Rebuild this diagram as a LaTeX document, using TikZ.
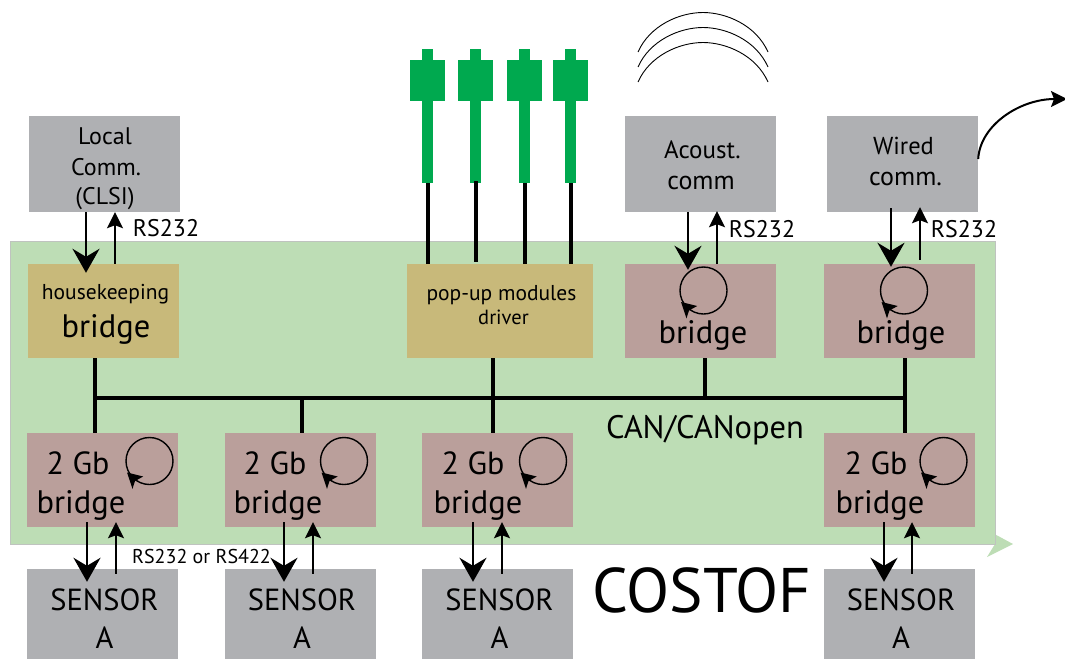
\documentclass[tikz,border=0pt]{standalone}
\usepackage{fontspec}
\setmainfont{PT Sans}
\usetikzlibrary{arrows.meta,calc}
\definecolor{boxgray}{HTML}{AFB0B3}
\definecolor{panelgreen}{HTML}{BDDDB5}
\definecolor{paneledge}{HTML}{BFC3BF}
\definecolor{brbrown}{HTML}{BA9F9B}
\definecolor{khaki}{HTML}{C8B97A}
\definecolor{pingreen}{HTML}{00A94F}
\tikzset{
  x=1pt,y=-1pt,
  blockbox/.style={rectangle,draw=none,inner sep=0pt,minimum width=151pt,minimum height=#1},
  graybox/.style={blockbox=96pt,fill=boxgray},
  sensorbox/.style={blockbox=90pt,fill=boxgray},
  brownbox/.style={blockbox=94pt,fill=brbrown},
  khakibox/.style={blockbox=94pt,fill=khaki},
  txt/.style={anchor=base,inner sep=0pt,font=\fontsize{#1}{#1}\selectfont},
  downarr/.style={line width=2.3pt,-{Stealth[length=24pt,width=27pt,inset=8pt]}},
  uparr/.style={line width=2pt,-{Stealth[length=16pt,width=16pt,inset=3pt]}},
  busline/.style={line width=4pt},
  loopring/.style={circle,draw,line width=1.4pt,inner sep=0pt,minimum size=47pt},
  stem/.style={rectangle,fill=pingreen,inner sep=0pt,minimum width=11pt,minimum height=134pt},
  pinhead/.style={rectangle,fill=pingreen,inner sep=0pt,minimum width=35pt,minimum height=41pt},
  wave/.style={line width=0.9pt},
}
\newcommand{\loopmark}[3]{%
  \node[loopring] (#1) at (#2,#3) {};
  \fill ($(#2,#3)+(-22.5,11.5)$) -- ($(#2,#3)+(-17,27.8)$) -- ($(#2,#3)+(-14.5,20)$) -- ($(#2,#3)+(-6.3,15.5)$) -- cycle;
}
\newcommand{\pinat}[2]{%
  \node[stem] (#1) at (#2,116) {};
  \node[pinhead] (#1h) at (#2,80.5) {};
}
\newcommand{\sensorset}[6]{%
  % name, box centre, 2 Gb x, bridge x, loop x, sensor text x
  \node[brownbox] (gb#1) at (#2,480) {};
  \node[sensorbox] (s#1) at (#2,614) {};
  \node[txt=32] at (#3,474) {2 Gb};
  \node[txt=32.5] at (#4,513) {bridge};
  \loopmark{lg#1}{#5}{461}
  \node[txt=30.5] at (#6,610) {SENSOR};
  \node[txt=30.5] at (#6,648) {A};
}
\begin{document}
\begin{tikzpicture}
\useasboundingbox (0,0) rectangle (1065,659);
% panel
\fill[panelgreen] (987,530) -- (1013,544) -- (987,557) -- (995,544) -- cycle;
\node[rectangle,fill=panelgreen,draw=paneledge,line width=1pt,inner sep=0pt,minimum width=985pt,minimum height=303pt] (panel) at (503,393) {};
% pins
\pinat{pina}{427.5}
\pinat{pinb}{475.5}
\pinat{pinc}{524.5}
\pinat{pind}{570.5}
% waves
\draw[wave] (638,52) .. controls (650,25) and (680,12.5) .. (703,12.5) .. controls (726,12.5) and (756,25) .. (768,52);
\draw[wave] (638,67) .. controls (650,40) and (680,27.5) .. (703,27.5) .. controls (726,27.5) and (756,40) .. (768,67);
\draw[wave] (638,82) .. controls (650,55) and (680,42.5) .. (703,42.5) .. controls (726,42.5) and (756,55) .. (768,82);
% top boxes
\node[graybox] (local) at (104.5,164) {};
\node[graybox] (acoust) at (700.5,164) {};
\node[graybox] (wired) at (902.5,164) {};
\node[khakibox] (hk) at (103.5,311) {};
\node[khakibox,minimum width=186pt] (popup) at (500,311) {};
\node[brownbox] (bra) at (700.5,311) {};
\node[brownbox] (brb) at (899.5,311) {};
\node[txt=24] at (105,144) {Local};
\node[txt=24] at (106,175) {Comm.};
\node[txt=24] at (105,204) {(CLSI)};
\node[txt=25] at (702.5,158) {Acoust.};
\node[txt=26] at (701,189) {comm};
\node[txt=24.5] at (903.5,154) {Wired};
\node[txt=26] at (905.5,185) {comm.};
\node[txt=24] at (166,236) {RS232};
\node[txt=24] at (762,237) {RS232};
\node[txt=24] at (964,237) {RS232};
\node[txt=21.5] at (105.5,299) {housekeeping};
\node[txt=32.5] at (106,337) {bridge};
\node[txt=21.5] at (501.5,300) {pop-up modules};
\node[txt=20.5] at (503.5,324) {driver};
\node[txt=32.5] at (703,343) {bridge};
\node[txt=32.5] at (901,343) {bridge};
\loopmark{lta}{703.5}{290.5}
\loopmark{ltb}{904}{290.5}
% lower boxes
\sensorset{a}{102.5}{78}{81}{149.5}{104.5}
\sensorset{b}{300.5}{275}{278}{344}{302}
\sensorset{c}{497.5}{473}{478}{543}{499.5}
\sensorset{d}{899.5}{876}{880}{943.5}{901}
\node[txt=32.5] at (705,438) {CAN/CANopen};
\node[txt=20] at (201.5,563) {RS232 or RS422};
\node[txt=63] at (701.5,612) {COSTOF};
% pop-up wires
\draw[busline] (pina.south) -- (pina.south |- popup.north);
\draw[busline] ([yshift=2pt]pinb.south) -- ([yshift=2pt]pinb.south |- popup.north);
\draw[busline] (pinc.south) -- (pinc.south |- popup.north);
\draw[busline] (pind.south) -- (pind.south |- popup.north);
% bus
\coordinate (busa) at (95,398);
\coordinate (busb) at (302,398);
\coordinate (busc) at (493,398);
\coordinate (busd) at (705,398);
\coordinate (buse) at (905,398);
\draw[busline] (busa) -- (buse);
\draw[busline] (busa |- hk.south) -- (busa |- gba.north);
\draw[busline] (busb) -- (busb |- gbb.north);
\draw[busline] (busc |- popup.south) -- (busc |- gbc.north);
\draw[busline] (busd |- bra.south) -- (busd);
\draw[busline] (buse |- brb.south) -- (buse |- gbd.north);
% top arrows
\draw[downarr] ([xshift=-18.5pt]local.south) -- ([xshift=-17.5pt,yshift=-9pt]hk.north);
\draw[uparr] ([xshift=11.5pt]hk.north) -- ([xshift=10.5pt]local.south);
\draw[downarr] ([xshift=-12.5pt]acoust.south) -- ([xshift=-12.5pt,yshift=-6pt]bra.north);
\draw[uparr] ([xshift=16.5pt]bra.north) -- ([xshift=16.5pt,yshift=1pt]acoust.south);
\draw[downarr] ([xshift=-11.5pt,yshift=4pt]wired.south) -- ([xshift=-8.5pt,yshift=-3pt]brb.north);
\draw[uparr] ([xshift=20.5pt,yshift=4pt]brb.north) -- ([xshift=17.5pt,yshift=5pt]wired.south);
% sensor arrows
\draw[downarr] ([xshift=-15.5pt,yshift=5pt]gba.south) -- ([xshift=-15.5pt,yshift=-13pt]sa.north);
\draw[uparr] ([xshift=13.5pt,yshift=-5pt]sa.north) -- ([xshift=13.5pt,yshift=5pt]gba.south);
\draw[downarr] ([xshift=-16.5pt,yshift=5pt]gbb.south) -- ([xshift=-16.5pt,yshift=-13pt]sb.north);
\draw[uparr] ([xshift=12.5pt,yshift=-5pt]sb.north) -- ([xshift=12.5pt,yshift=5pt]gbb.south);
\draw[downarr] ([xshift=-24.5pt,yshift=5pt]gbc.south) -- ([xshift=-24.5pt,yshift=-13pt]sc.north);
\draw[uparr] ([xshift=4.5pt,yshift=-5pt]sc.north) -- ([xshift=4.5pt,yshift=5pt]gbc.south);
\draw[downarr] ([xshift=-15.5pt,yshift=5pt]gbd.south) -- ([xshift=-15.5pt,yshift=-13pt]sd.north);
\draw[uparr] ([xshift=12.5pt,yshift=-5pt]sd.north) -- ([xshift=12.5pt,yshift=5pt]gbd.south);
% outgoing wired link
\coordinate (wiredout) at (1067,99);
\draw[uparr] ([yshift=5pt]wired.east) .. controls (980,125) and (1020,99) .. (wiredout);
\end{tikzpicture}
\end{document}
